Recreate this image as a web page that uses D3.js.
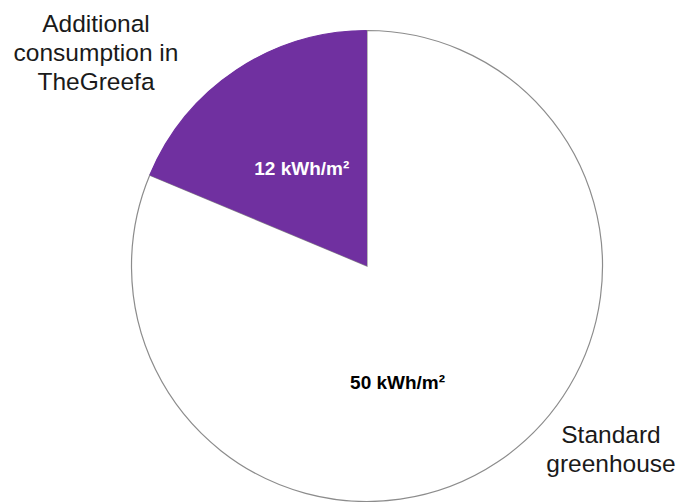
<!DOCTYPE html>
<html><head><meta charset="utf-8">
<script src="https://cdn.jsdelivr.net/npm/d3@7"></script>
<style>body{margin:0;background:#fff}svg{display:block}</style>
</head><body>
<svg id="c" width="692" height="502"></svg>
<script>
const categories = ["Additional consumption in TheGreefa", "Standard greenhouse"];
const values = [11.5, 50];
const valueLabels = ["12 kWh/m²", "50 kWh/m²"];
const colors = ["#7030A0", "#ffffff"];
const outerLines = [["Additional", "consumption in", "TheGreefa"], ["Standard", "greenhouse"]];

const svg = d3.select("#c");
const cx = 367, cy = 266, R = 235.5;
const total = d3.sum(values);
const start = -values[0] / total * 2 * Math.PI;
const pie = d3.pie().sort(null).startAngle(start).endAngle(start + 2 * Math.PI);
const arcs = pie(values);
const arc = d3.arc().innerRadius(0).outerRadius(R);
const g = svg.append("g").attr("transform", `translate(${cx},${cy})`);

g.selectAll("path.s").data(arcs).join("path")
  .attr("class", "s")
  .attr("d", arc)
  .attr("fill", (d, i) => colors[i])
  .attr("stroke", (d, i) => i === 0 ? colors[0] : "#8c8c8c")
  .attr("stroke-width", 1.2);
g.append("path").attr("d", arc(arcs[0])).attr("fill", colors[0]);

// value labels
const labelR = [0.5 * R, 0.51 * R];
const labelAngleShift = [0, 0.33];
g.selectAll("text.v").data(arcs).join("text")
  .attr("class", "v")
  .attr("transform", (d, i) => {
    const a = (d.startAngle + d.endAngle) / 2 + labelAngleShift[i];
    return `translate(${Math.sin(a) * labelR[i]},${-Math.cos(a) * labelR[i]})`;
  })
  .attr("text-anchor", "middle").attr("dy", "0.35em")
  .attr("font-family", "Liberation Sans, Arial, sans-serif")
  .attr("font-weight", "bold").attr("font-size", 19)
  .attr("fill", (d, i) => i === 0 ? "#ffffff" : "#000000")
  .text((d, i) => valueLabels[i]);

// outer category labels
const outerPos = [[96, 32], [611, 443]];
outerLines.forEach((lines, i) => {
  const t = svg.append("text")
    .attr("text-anchor", "middle")
    .attr("font-family", "Liberation Sans, Arial, sans-serif")
    .attr("font-size", 24.5).attr("fill", "#1a1a1a");
  lines.forEach((l, j) => t.append("tspan").attr("x", outerPos[i][0]).attr("y", outerPos[i][1] + j * 29).text(l));
});
</script>
</body></html>
